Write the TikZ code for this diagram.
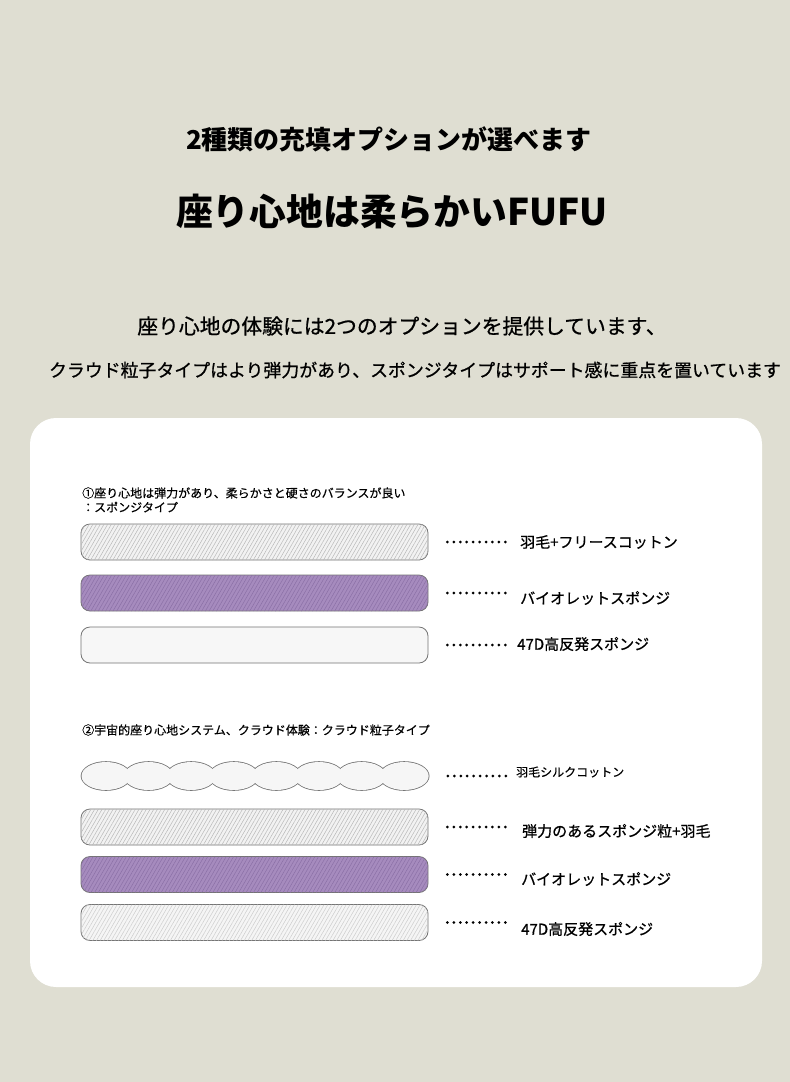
\documentclass[tikz,border=0pt]{standalone}
\usepackage{fontspec}
\setmainfont{Noto Sans CJK JP}
\newfontfamily\jpmed[FakeBold=0.8]{Noto Sans CJK JP}
\newfontfamily\jpsoft[FakeBold=0.4]{Noto Sans CJK JP}
\usetikzlibrary{positioning,shapes.geometric,patterns.meta}
\definecolor{bgc}{HTML}{DFDED2}
\definecolor{edge}{HTML}{747474}
\definecolor{violet}{HTML}{A68BBE}
\definecolor{violetline}{HTML}{8B70A6}
\definecolor{pale}{HTML}{F2F2F2}
\definecolor{paleline}{HTML}{B8B8B8}

\begin{document}
\begin{tikzpicture}[x=1pt,y=-1pt,
  title/.style={font=\bfseries\fontsize{#1}{#1}\selectfont, inner sep=0pt},
  lead/.style={font=\jpmed\fontsize{#1}{#1}\selectfont, inner sep=0pt},
  body/.style={font=\jpsoft\fontsize{#1}{#1}\selectfont, inner sep=0pt, anchor=west},
  label/.style={font=\jpmed\fontsize{#1}{#1}\selectfont, inner sep=0pt, anchor=west},
  bar/.style={draw=edge, line width=0.8pt, rounded corners=9pt,
    minimum width=347pt, minimum height=36pt, inner sep=0pt},
  hatch/.style={postaction={pattern={Lines[angle=60,distance=3.2pt,line width=0.5pt]}, pattern color=#1}},
  puff/.style={ellipse, inner sep=0pt, minimum width=49pt, minimum height=28pt},
  leader/.style={line width=3pt, line cap=round, dash pattern=on 0pt off 6.44pt}
 ]
  \useasboundingbox (0,0) rectangle (790,1082);
  \fill[bgc] (0,0) rectangle (790,1082);
  \fill[white, rounded corners=26pt] (30,418) rectangle (762,987);

  % headings
  \node[title=26] (t1) at (389,139) {2種類の充填オプションが選べます};
  \node[title=36.8] (t2) at (392,212) {座り心地は柔らかいFUFU};
  \node[lead=20.8] (s1) at (402,326) {座り心地の体験には2つのオプションを提供しています、};
  \node[lead=17.9] (s2) at (415,370) {クラウド粒子タイプはより弾力があり、スポンジタイプはサポート感に重点を置いています};

  % option 1
  \node[body=12] (h1) at (82,493) {①座り心地は弾力があり、柔らかさと硬さのバランスが良い};
  \node[body=12] (h1b) at (82,507) {：スポンジタイプ};
  \node[bar, fill=pale, hatch=paleline] (b1) at (254.5,542) {};
  \node[bar, fill=violet, hatch=violetline] (b2) at (254.5,593) {};
  \node[bar, fill=pale!60!white] (b3) at (254.5,645) {};
  \node[label=15] (l1) at (520,542) {羽毛+フリースコットン};
  \node[label=15] (l2) at (520,598) {バイオレットスポンジ};
  \node[label=15] (l3) at (517,644) {47D高反発スポンジ};
  \foreach \b in {b1,b2,b3}
   \draw[leader] ([xshift=19pt]\b.east) -- ([xshift=77.5pt]\b.east);

  % option 2
  \node[body=12] (h2) at (82,730) {②宇宙的座り心地システム、クラウド体験：クラウド粒子タイプ};
  \foreach \i in {0,...,7}
   \node[puff, draw=edge, line width=1.6pt] at (106+42.6*\i,776) {};
  \foreach \i in {0,...,7}
   \node[puff, fill=pale!70!white] (e\i) at (106+42.6*\i,776) {};
  \node[bar, fill=pale, hatch=paleline] (b4) at (254.5,827) {};
  \node[bar, fill=violet, hatch=violetline] (b5) at (254.5,874.5) {};
  \node[bar, fill=pale!80!white, hatch=paleline!70!white] (b6) at (254.5,922.5) {};
  \node[body=12] (l4) at (516,772) {羽毛シルクコットン};
  \node[label=15] (l5) at (522,831) {弾力のあるスポンジ粒+羽毛};
  \node[label=15] (l6) at (521,879) {バイオレットスポンジ};
  \node[label=15] (l7) at (521,929) {47D高反発スポンジ};
  \draw[leader] ([xshift=19pt]e7.east) -- ([xshift=77.5pt]e7.east);
  \foreach \b in {b4,b5,b6}
   \draw[leader] ([xshift=19pt]\b.east) -- ([xshift=77.5pt]\b.east);
\end{tikzpicture}
\end{document}
